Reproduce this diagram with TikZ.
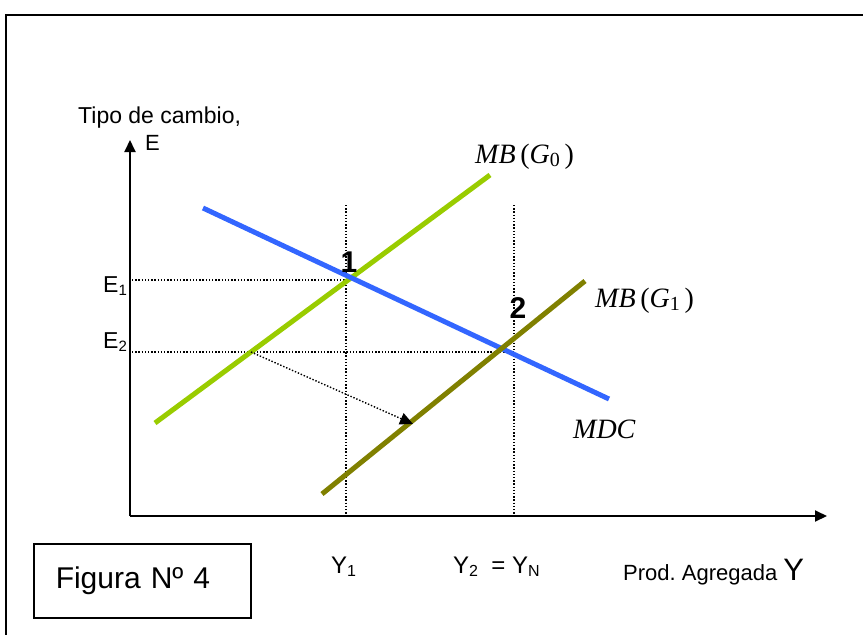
\documentclass[tikz,border=0pt]{standalone}
\usepackage{fontspec}
\setmainfont{Liberation Sans}
\newfontfamily\tmsfont{Liberation Serif}
\usetikzlibrary{arrows.meta}
\definecolor{mdcblue}{RGB}{51,102,255}
\definecolor{lgreen}{RGB}{153,204,0}
\definecolor{olivegr}{RGB}{128,128,0}
\newcommand{\lowsub}[2]{\raisebox{-0.28ex}{\fontsize{#2}{#2}\selectfont #1}}
\frenchspacing
\tikzset{
  axisline/.style={line width=2pt,-{Triangle[length=12pt,width=11pt]}},
  guide/.style={line width=1.4pt,dash pattern=on 1.4pt off 1.8pt},
  curve/.style={line width=5pt},
  lbl/.style={inner sep=0pt,anchor=base west},
  mathlbl/.style={inner sep=0pt,anchor=base west,font=\fontsize{28}{28}\selectfont\tmsfont},
  numlbl/.style={inner sep=0pt,anchor=base,font=\fontsize{30}{30}\selectfont\bfseries},
}
\begin{document}
\begin{tikzpicture}[x=1pt,y=-1pt]
\useasboundingbox (0,0) rectangle (863,635);
% outer frame (partially visible)
\draw[line width=2pt] (6,640) -- (6,15) -- (870,15);

% axes
\coordinate (O) at (130,516);
\coordinate (Ytop) at (130,140);
\coordinate (Xend) at (827,516);
\draw[axisline] (O) -- (Ytop);
\draw[axisline] (O) -- (Xend);

% guide lines
\coordinate (e1l) at (132,280);
\coordinate (p1) at (346,280);
\coordinate (e2l) at (132,352);
\coordinate (e2r) at (514,352);
\coordinate (v1t) at (346,205);
\coordinate (v1b) at (346,515);
\coordinate (v2t) at (514,205);
\coordinate (v2b) at (514,515);
\draw[guide] (e1l) -- (p1);
\draw[guide] (e2l) -- (e2r);
\draw[guide] (v1t) -- (v1b);
\draw[guide] (v2t) -- (v2b);

% curves
\coordinate (mdcA) at (203,208);
\coordinate (mdcB) at (609,399);
\coordinate (g0A) at (155,423);
\coordinate (g0B) at (490,175);
\coordinate (g1A) at (322,494);
\coordinate (g1B) at (585,281);
\draw[curve,lgreen] (g0A) -- (g0B);
\draw[curve,mdcblue] (mdcA) -- (mdcB);
\draw[curve,olivegr] (g1A) -- (g1B);

% shift arrow
\coordinate (sA) at (251,352);
\coordinate (sB) at (413,424);
\draw[guide,-{Triangle[length=13pt,width=12pt]}] (sA) -- (sB);

% labels
\node[lbl,font=\fontsize{23}{23}\selectfont] (tipo) at (78,123) {Tipo de cambio,};
\node[lbl,font=\fontsize{22}{22}\selectfont] (E) at (145,150) {E};
\node[lbl,font=\fontsize{23}{23}\selectfont] (E1) at (103,292) {E\lowsub{1}{15}};
\node[lbl,font=\fontsize{23}{23}\selectfont] (E2) at (103,348) {E\lowsub{2}{15}};
\node[numlbl] (n1) at (349,272) {1};
\node[numlbl] (n2) at (518,318) {2};
\node[mathlbl] (mbg0) at (475,163) {\textit{MB}\,(\textit{G}\lowsub{0}{20}\,)};
\node[mathlbl] (mbg1) at (595,307) {\textit{MB}\,(\textit{G}\lowsub{1}{20}\,)};
\node[mathlbl] (mdc) at (573,438) {\textit{MDC}};
\node[lbl,font=\fontsize{24}{24}\selectfont] (Y1) at (331,573) {Y\lowsub{1}{16}};
\node[lbl,font=\fontsize{24}{24}\selectfont] (Y2) at (453,573) {Y\lowsub{2}{16}\ \ = Y\lowsub{N}{16}};
\node[lbl,font=\fontsize{22}{22}\selectfont] (prod) at (623,580) {Prod. Agregada \fontsize{31}{31}\selectfont Y};
\node[draw,line width=1.5pt,anchor=north west,minimum width=217pt,minimum height=74pt,
      inner xsep=22pt,text width=173pt,align=left,font=\fontsize{30}{30}\selectfont] (fig) at (33,543) {Figura Nº 4};
\end{tikzpicture}
\end{document}
